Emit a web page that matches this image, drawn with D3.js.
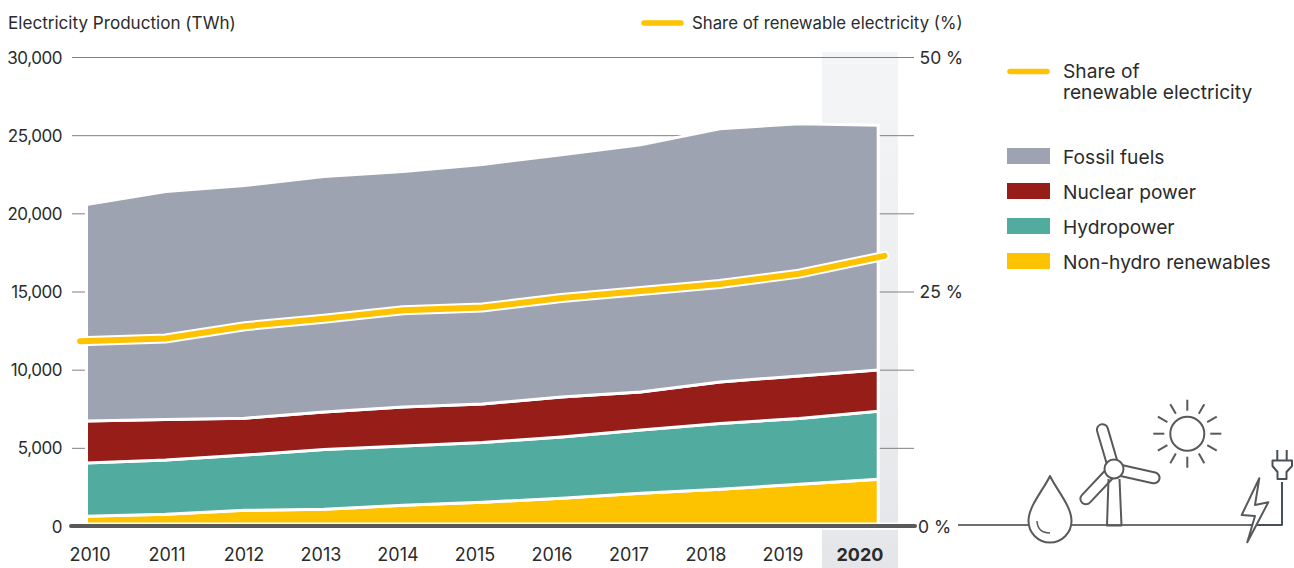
<!DOCTYPE html>
<html>
<head>
<meta charset="utf-8">
<script src="https://cdn.jsdelivr.net/npm/d3@7"></script>
<style>
html, body { margin: 0; padding: 0; background: #fff; }
svg { display: block; }
text { font-family: Inter, sans-serif; fill: #2b2b2b; }
</style>
</head>
<body>
<svg width="1294" height="568"></svg>
<script>
var years = [2010, 2011, 2012, 2013, 2014, 2015, 2016, 2017, 2018, 2019, 2020];
var renewables = [630, 750, 1000, 1070, 1320, 1520, 1780, 2100, 2350, 2670, 2990];
var hydro = [3400, 3470, 3540, 3820, 3800, 3820, 3910, 4040, 4210, 4210, 4350];
var nuclear = [2686, 2590, 2360, 2400, 2490, 2460, 2560, 2430, 2650, 2720, 2640];
var fossil = [13854, 14590, 14880, 15070, 15070, 15330, 15500, 15810, 16200, 16130, 15650];
// the share line runs a little past the first and last year
var shareYears = [2009.92, 2011, 2012, 2013, 2014, 2015, 2016, 2017, 2018, 2019, 2020.08];
var shareValues = [19.7, 20.0, 21.3, 22.1, 23.0, 23.3, 24.3, 25.05, 25.8, 26.9, 28.8];
var leftTicks = [0, 5000, 10000, 15000, 20000, 25000, 30000];
var rightTicks = [0, 25, 50];
var seriesNames = ["renewables", "hydro", "nuclear", "fossil"];
var seriesColors = ["#fdc300", "#52ab9f", "#961d18", "#9ea3b1"];
var legendNames = ["Fossil fuels", "Nuclear power", "Hydropower", "Non-hydro renewables"];
var legendColors = ["#9ea3b1", "#961d18", "#52ab9f", "#fdc300"];

var svg = d3.select("svg");
var defs = svg.append("defs");

var bandGradient = defs.append("linearGradient")
    .attr("id", "band-gradient")
    .attr("x1", 0).attr("y1", 0).attr("x2", 0).attr("y2", 1);
bandGradient.append("stop").attr("offset", 0).attr("stop-color", "#f4f5f6");
bandGradient.append("stop").attr("offset", 1).attr("stop-color", "#e4e6e9");

var x = d3.scaleLinear().domain([2010, 2020]).range([86.5, 878.2]);
var labelX = d3.scalePoint().domain(years).range([90, 860]);
var y = d3.scaleLinear().domain([0, 30000]).range([526, 57]);
var yShare = d3.scaleLinear().domain([0, 50]).range([526, 57]);

// highlighted 2020 column
svg.append("rect")
    .attr("x", 822).attr("y", 52)
    .attr("width", 76).attr("height", 516)
    .style("fill", "url(#band-gradient)");
svg.append("rect")
    .attr("x", 822).attr("y", 523)
    .attr("width", 76).attr("height", 7)
    .attr("fill", "#fff");

// left axis, its lines run across as gridlines
var leftAxis = svg.append("g")
    .attr("transform", "translate(62,0)")
    .call(d3.axisLeft(y).tickValues(leftTicks).tickSize(0).tickPadding(0).tickFormat(d3.format(",")));
leftAxis.select(".domain").remove();
leftAxis.selectAll("text")
    .attr("font-size", 17).attr("dy", "0.36em")
    .attr("letter-spacing", -0.45)
    .style("font-family", "Inter, sans-serif");
leftAxis.selectAll(".tick line")
    .attr("x1", 10).attr("x2", 852)
    .attr("stroke", "#808080").attr("stroke-width", 1);

var rightAxis = svg.append("g")
    .attr("transform", "translate(919.5,0)")
    .call(d3.axisRight(yShare).tickValues(rightTicks).tickSize(0).tickPadding(0).tickFormat(function(d) { return d + " %"; }));
rightAxis.select(".domain").remove();
rightAxis.selectAll("text")
    .attr("font-size", 17.5).attr("dy", "0.36em")
    .attr("x", function(d) { return d == 0 ? -1.5 : 0; })
    .style("font-family", "Inter, sans-serif");

// stacked areas
var rows = years.map(function(d, i) {
    return { year: d, renewables: renewables[i], hydro: hydro[i], nuclear: nuclear[i], fossil: fossil[i] };
});
var stack = d3.stack().keys(seriesNames);
var area = d3.area()
    .x(function(d) { return x(d.data.year); })
    .y0(function(d) { return y(d[0]); })
    .y1(function(d) { return y(d[1]); });

svg.selectAll(".layer")
    .data(stack(rows))
    .enter().append("path")
    .attr("class", "layer")
    .attr("d", area)
    .attr("fill", function(d, i) { return seriesColors[i]; })
    .attr("stroke", "#fff")
    .attr("stroke-width", 3);

// x axis
svg.append("line")
    .attr("x1", 72).attr("x2", 915)
    .attr("y1", y(0)).attr("y2", y(0))
    .attr("stroke", "#fff").attr("stroke-width", 7);
svg.append("line")
    .attr("x1", 71).attr("x2", 915)
    .attr("y1", y(0)).attr("y2", y(0))
    .attr("stroke", "#595959").attr("stroke-width", 4)
    .attr("stroke-linecap", "round");

svg.selectAll(".year")
    .data(years)
    .enter().append("text")
    .attr("class", "year")
    .attr("x", function(d) { return labelX(d); })
    .attr("y", 560.5)
    .attr("text-anchor", "middle")
    .attr("font-size", 18)
    .attr("font-weight", function(d) { return d == 2020 ? 700 : 400; })
    .text(function(d) { return d; });

// share line with white halo
var shareLine = d3.line()
    .x(function(d, i) { return x(shareYears[i]); })
    .y(function(d) { return yShare(d); });

svg.append("path")
    .attr("d", shareLine(shareValues))
    .attr("fill", "none")
    .attr("stroke", "#fff").attr("stroke-width", 10)
    .attr("stroke-linecap", "round");
svg.append("path")
    .attr("d", shareLine(shareValues))
    .attr("fill", "none")
    .attr("stroke", "#fdc300").attr("stroke-width", 6)
    .attr("stroke-linecap", "round");

// titles
svg.append("text").attr("x", 8).attr("y", 29).attr("font-size", 17.1)
    .text("Electricity Production (TWh)");
svg.append("line")
    .attr("x1", 644).attr("x2", 681).attr("y1", 23).attr("y2", 23)
    .attr("stroke", "#fdc300").attr("stroke-width", 5.5).attr("stroke-linecap", "round");
svg.append("text").attr("x", 692).attr("y", 29).attr("font-size", 16.8)
    .text("Share of renewable electricity (%)");

// legend
svg.append("line")
    .attr("x1", 1010).attr("x2", 1047).attr("y1", 71.5).attr("y2", 71.5)
    .attr("stroke", "#fdc300").attr("stroke-width", 5.5).attr("stroke-linecap", "round");
var shareLabel = svg.append("text").attr("font-size", 19.2);
shareLabel.append("tspan").attr("x", 1063).attr("y", 78).text("Share of");
shareLabel.append("tspan").attr("x", 1063).attr("y", 99).text("renewable electricity");

var legendTop = [148, 183, 218, 253];
svg.selectAll(".swatch")
    .data(legendNames)
    .enter().append("rect")
    .attr("class", "swatch")
    .attr("x", 1007)
    .attr("y", function(d, i) { return legendTop[i]; })
    .attr("width", 43).attr("height", 16)
    .attr("fill", function(d, i) { return legendColors[i]; });
svg.selectAll(".legend-label")
    .data(legendNames)
    .enter().append("text")
    .attr("class", "legend-label")
    .attr("x", 1063)
    .attr("y", function(d, i) { return legendTop[i] + 15.5; })
    .attr("font-size", 19.2)
    .text(function(d) { return d; });

// energy icons along the baseline
var icons = svg.append("g")
    .attr("fill", "none").attr("stroke", "#58595b").attr("stroke-width", 2)
    .attr("stroke-linejoin", "round");

icons.append("line").attr("x1", 958).attr("x2", 1282).attr("y1", 525).attr("y2", 525)
    .attr("stroke", "#6f7072");

// drop
icons.append("path").attr("fill", "#fff")
    .attr("d", "M1050,476 C1044,489 1028.5,506 1028.5,521 A21.5,21.5 0 0 0 1071.5,521 C1071.5,506 1056,489 1050,476 Z");
icons.append("path").attr("stroke-width", 1.5)
    .attr("d", "M1037,521 C1037.5,529 1042,533 1050,533");

// turbine
icons.append("path").attr("d", "M1108.5,479 L1107,525.5 H1121.5 L1119.5,479");
var bladeAngles = [-16.4, 102.4, -136.7];
icons.selectAll(".blade")
    .data(bladeAngles)
    .enter().append("rect")
    .attr("class", "blade")
    .attr("x", -5.5).attr("y", -46.5)
    .attr("width", 11).attr("height", 46.5)
    .attr("rx", 5.5)
    .attr("transform", function(d) { return "translate(1114,469) rotate(" + d + ")"; });
icons.append("circle").attr("cx", 1114).attr("cy", 469).attr("r", 9.5).attr("fill", "#fff");

// sun
icons.append("circle").attr("cx", 1187.3).attr("cy", 433.7).attr("r", 17);
icons.selectAll(".ray")
    .data(d3.range(12))
    .enter().append("line")
    .attr("class", "ray")
    .attr("x1", function(d) { return 1187.3 + 23 * Math.cos(d * Math.PI / 6); })
    .attr("y1", function(d) { return 433.7 + 23 * Math.sin(d * Math.PI / 6); })
    .attr("x2", function(d) { return 1187.3 + 34 * Math.cos(d * Math.PI / 6); })
    .attr("y2", function(d) { return 433.7 + 34 * Math.sin(d * Math.PI / 6); });

// bolt and plug
icons.append("path").attr("stroke", "#4a5058")
    .attr("d", "M1250,525 H1282 V482");
icons.append("path").attr("fill", "#fff")
    .attr("d", "M1259.3,478.3 L1241.7,515 L1255,516 L1247.3,542.3 L1268.3,502.3 L1255,505 Z");
icons.append("path").attr("stroke", "#4a5058")
    .attr("d", "M1277.3,450 V460 M1286.7,450 V460 M1272.5,460.5 H1292 V466 L1286.5,472 V479 H1277.5 V472 L1272.5,466 Z");
</script>
</body>
</html>
